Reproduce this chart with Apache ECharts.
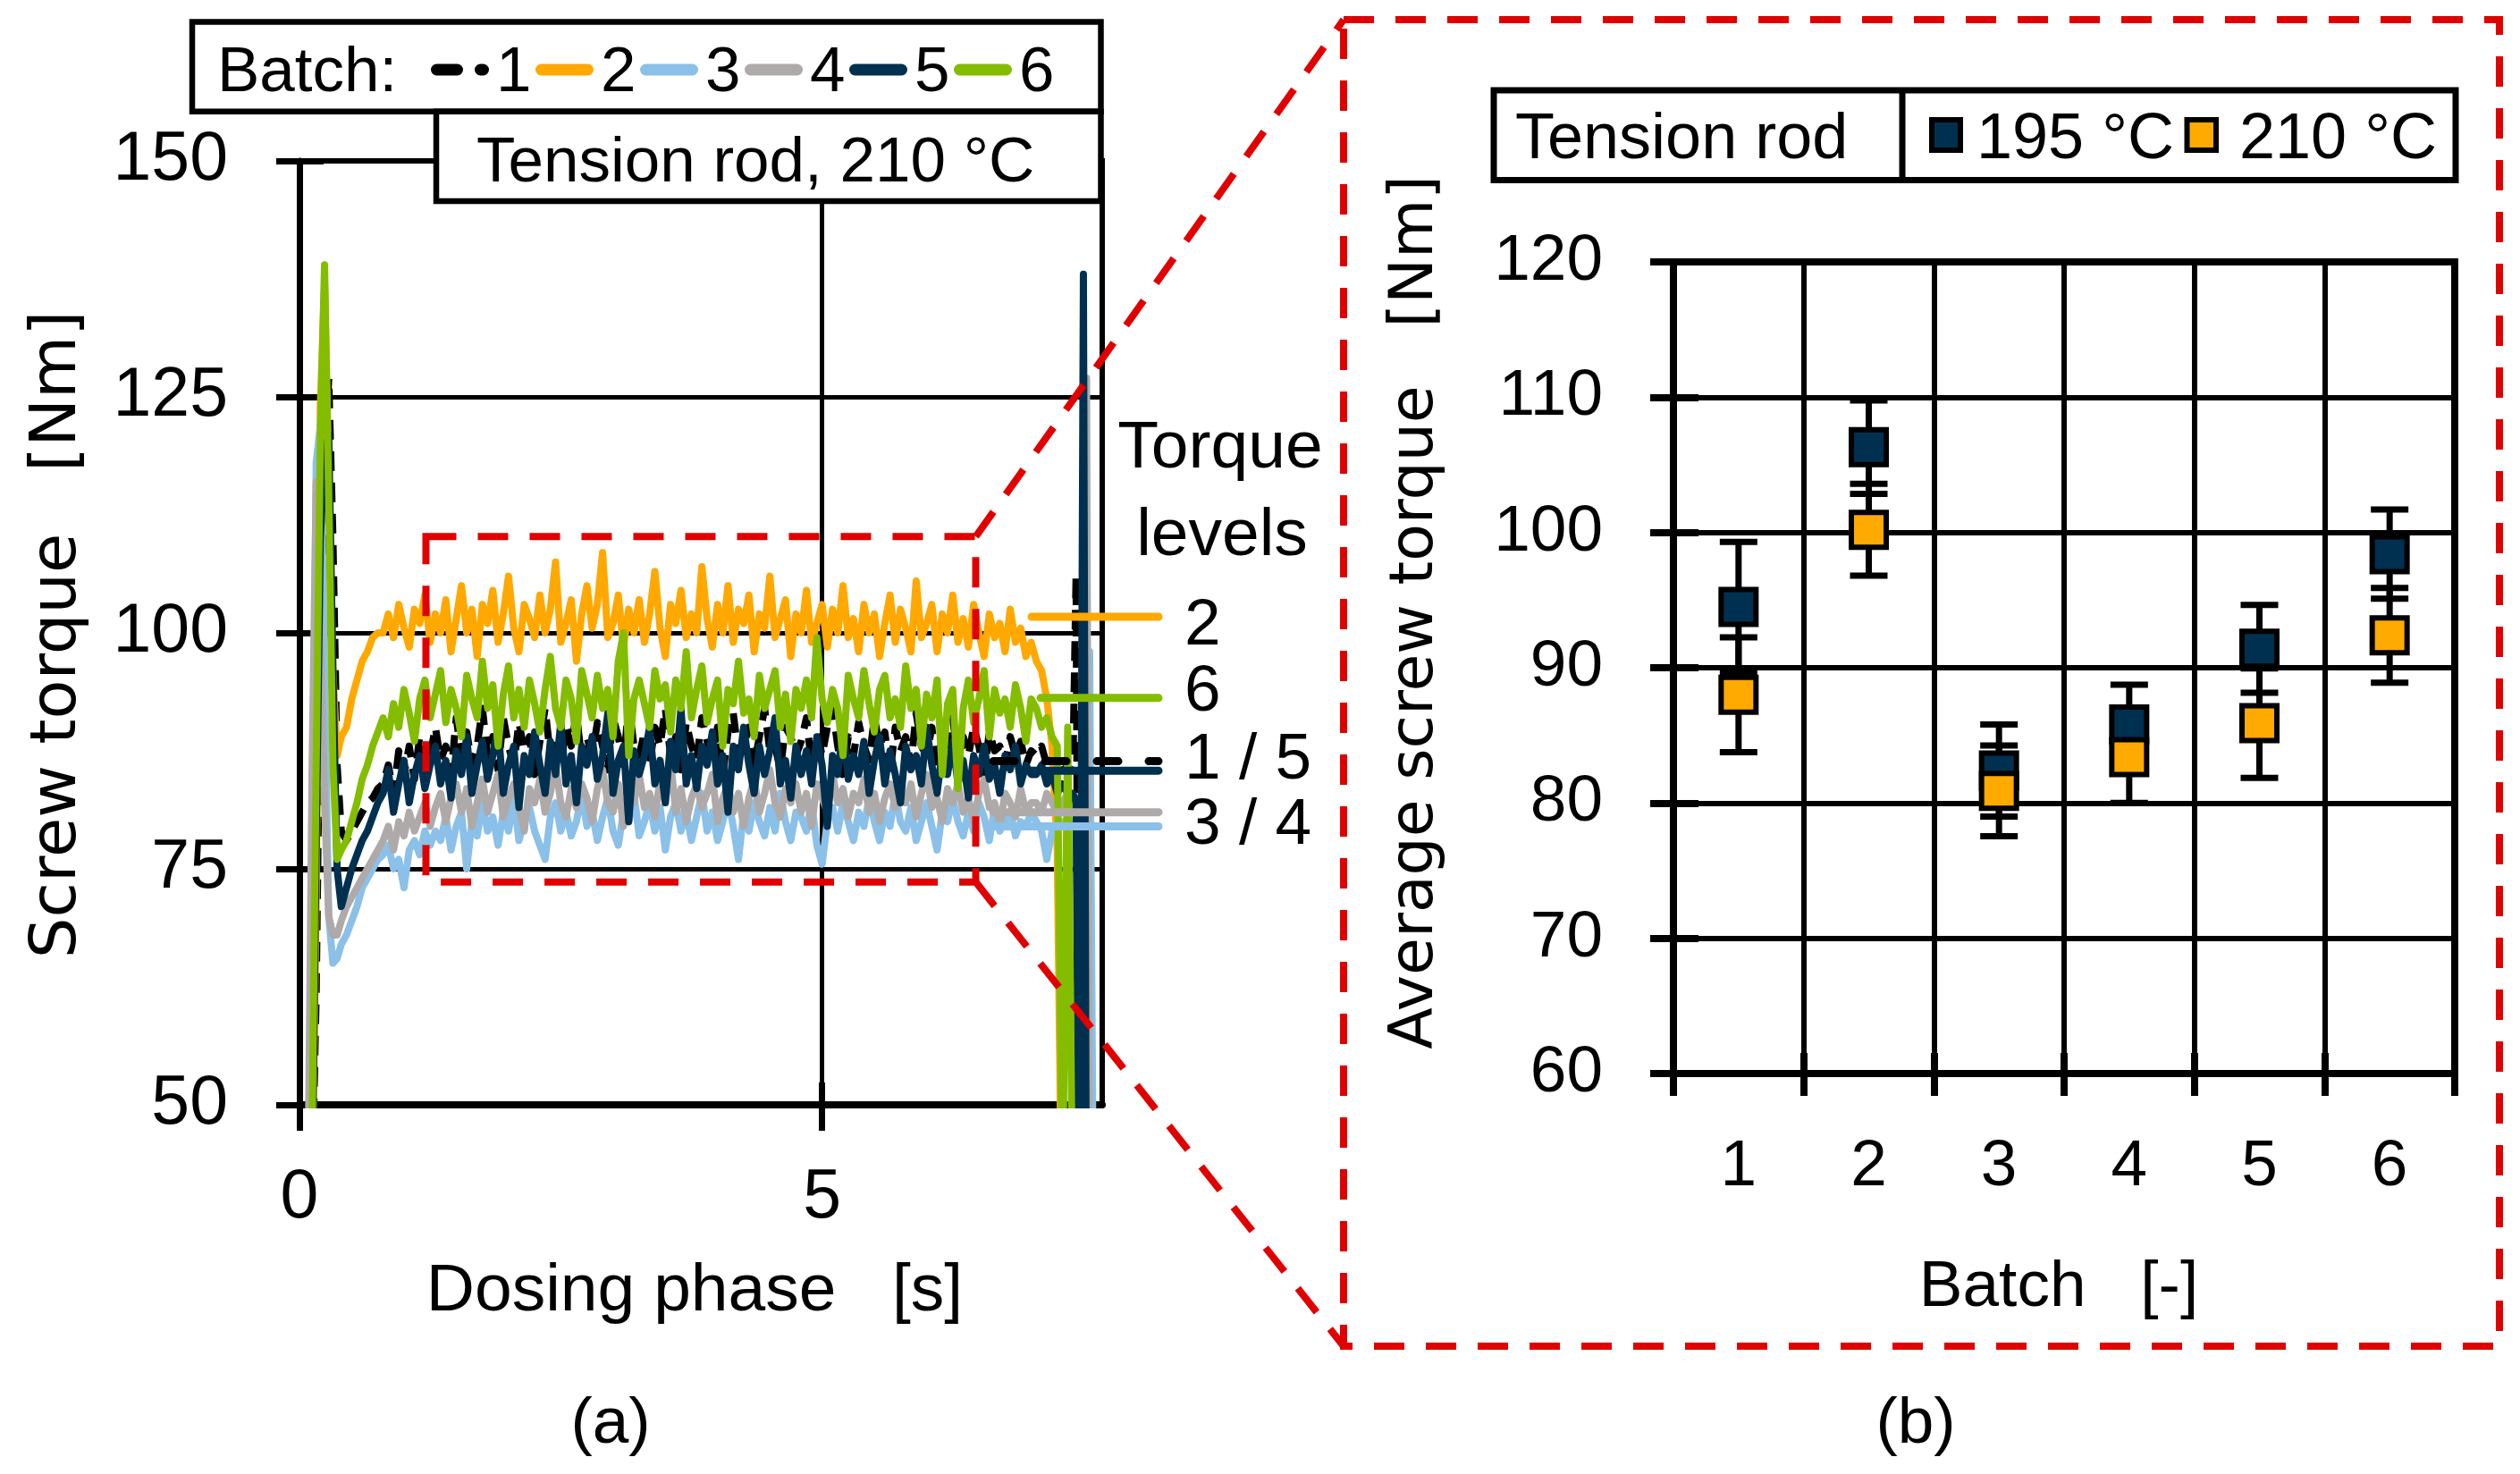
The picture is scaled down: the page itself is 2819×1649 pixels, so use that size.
<!DOCTYPE html>
<html><head><meta charset="utf-8">
<script src="https://cdn.jsdelivr.net/npm/echarts@6.0.0/dist/echarts.min.js"></script>
<style>html,body{margin:0;padding:0;background:#fff}#c{width:2819px;height:1649px}</style>
</head><body><div id="c"></div>
<script>
// ---------------- data: panel (a) ----------------
const time = [
0,0.08,0.12,0.16,0.2,0.24,0.28,0.32,0.36,0.4,0.45,0.5,0.55,0.6,0.65,0.7,0.75,
0.8,0.85,0.9,0.95,1,1.05,1.1,1.15,1.2,1.25,
1.3,1.35,1.4,1.45,1.5,1.55,1.6,1.65,1.7,1.75,
1.8,1.85,1.9,1.95,2,2.05,2.1,2.15,2.2,2.25,
2.3,2.35,2.4,2.45,2.5,2.55,2.6,2.65,2.7,2.75,
2.8,2.85,2.9,2.95,3,3.05,3.1,3.15,3.2,3.25,
3.3,3.35,3.4,3.45,3.5,3.55,3.6,3.65,3.7,3.75,
3.8,3.85,3.9,3.95,4,4.05,4.1,4.15,4.2,4.25,
4.3,4.35,4.4,4.45,4.5,4.55,4.6,4.65,4.7,4.75,
4.8,4.85,4.9,4.95,5,5.05,5.1,5.15,5.2,5.25,
5.3,5.35,5.4,5.45,5.5,5.55,5.6,5.65,5.7,5.75,
5.8,5.85,5.9,5.95,6,6.05,6.1,6.15,6.2,6.25,
6.3,6.35,6.4,6.45,6.5,6.55,6.6,6.65,6.7,6.75,
6.8,6.85,6.9,6.95,7,
7.05,7.1,7.15,7.2,7.25,7.3,7.35,7.4,7.43,7.46,7.5,7.53,7.56,7.6];

const batch1 = [
40,40,40,62,98,118,127,110,86,79,78,79,80,81,82,82.5,83.5,
84,86,83,87.5,85,88,84.5,89,86,87,
90,86.5,88,85,91,87,89.5,86,88,92,
87,89,85.5,91,88,86,90.5,87.5,89,85,
88.5,92,87,89,86,90,88,91.5,86.5,89,
87,90.5,88,85.5,91,89,86,92.5,88,87,
89.5,86,90,88,92,87,89,85.5,90.5,88,
86.5,91,88.5,87,90,85,89.5,91.5,87,88,
90,86,89,92,87.5,88,85.5,90,89,87,
88.5,91,86,89.5,87,90,92,88,85,89,
87,90.5,88,86.5,91,88,89.5,85,90,87.5,
89,86,91.5,88,87,90,85.5,89,88,91,
86.5,89,87,90,88,85,89.5,87.5,88,86,
89,87,88.5,86,87.5,
87,88,86,87,85,86,85,86,106,30,null,null,null,null];

const batch2 = [
40,40,40,72,124,137,116,96,87,89,90,93,95,97,98,99.5,100,
100,102,99.5,103,100.5,98.5,102.5,101,104,99,
102,100,103.5,98,101.5,105,100,102.5,97.5,103,
101,104.5,99,102,106,100.5,98,103,101.5,99.5,
104,100,102.5,107.5,99,101,103.5,97,102,105,
100.5,103,108.5,99.5,101,104,98.5,102.5,100,103.5,
99,102,106.5,100.5,97.5,103,101,104.5,99.5,102,
100,107,101.5,98.5,103,100,105,99,102.5,101,
104,98,102,100.5,106,99.5,101.5,103.5,97.5,102,
100,104.5,99,101,103,98.5,102.5,100,105,99.5,
101.5,98,103,100,102,97.5,101,104,99,102.5,
100.5,98,105.5,99.5,101,103,98,102,100,104,
99,101.5,98.5,103,100,97.5,102,99.5,101,98,
102.5,99,100.5,97.5,99,
97,96,93,88,77,30,null,null,null,null,null,null,null,null];

const batch3 = [
40,40,70,118,122,95,70,65,65.5,67,68,69.5,71,73,74,75,76,
76.5,77.5,75,76,73,77,78,76.5,79,77.5,
79,78,80.5,77,79.5,81,75,80,78.5,82,
79,80.5,77.5,81,79,82.5,78,80,81.5,79,
77.5,76,80.5,82,79,81,78.5,80,83,79.5,
81,78,80.5,82.5,79,77.5,81,80,83,78.5,
80,82,79,81.5,77,80.5,82,79,81,78,
80.5,83,79,81,78,80,82.5,79.5,76,81,
79,82,80,78.5,81.5,79,83,80,78,81,
80.5,79,82,77.5,75.5,80,81.5,79,82,80,
78,81,79.5,82.5,80,78,81,79.5,83,80,
79,81.5,78,80,82,79.5,77,81,80,82.5,
80,78.5,81,79,82,80.5,78,81.5,79,80,
81,78.5,80,79.5,81,
80,79,76,79,80,80,79,80,80,79,80,81,98,30];

const batch4 = [
40,40,85,116,100,82,70,68,68,69.5,71,72,73,74,75,76,77,
78,79.5,77,80,78.5,81,79,80.5,82,79.5,
81.5,83,80,82.5,84,81,83.5,79.5,82,84.5,
81,83,85,80.5,82.5,84,81.5,79,83.5,82,
84.5,81,83,86,82,80.5,83.5,81.5,84,82.5,
80,83.5,85.5,82,81,84,79.5,83,82,85,
81.5,83,80.5,84.5,82,86.5,81,83.5,80,82.5,
84,81.5,83,85,80,82.5,84,81,83,79.5,
82.5,84.5,81,83,85.5,82,80.5,83.5,82,84,
81,83,79.5,84,82.5,81,85,82,83.5,80.5,
83,82,84.5,81,83,80,82.5,84,81.5,83,
82,84,80.5,83,85,81.5,82.5,80,83.5,82,
84,81,82.5,80,83,84.5,81.5,82,79.5,83,
82,80.5,83.5,81,82,
82,81,83,82,81,82,83,82,81,82,82,127,30,null];

const batch5 = [
40,40,40,78,110,119,121,96,75,71,73,75,76.5,78,79,80.5,82,
83,85.5,81,84,86.5,82,85,87,83.5,86,
88,84,86.5,82.5,87.5,85,89,83,86,88.5,
84.5,87,90,83,86,88,81.5,87,85,89.5,
86,83,88.5,85,90.5,84,87,82,88,86,
89,84.5,87,91.5,83,86.5,88,80,87.5,85,
87,90,84,86.5,82,88.5,85.5,92,84,87,
83.5,88,86,89.5,84,87,81,88,85.5,90,
86,83,88,85,87.5,91,84,86.5,82.5,88,
85,87.5,84,89,86,79.5,87,85,90,84.5,
87,85,88.5,83,86.5,89,84,87.5,85,82,
88,85.5,87,84,90,86,83,87.5,85,88.5,
84,86.5,82.5,87,85,88,84.5,86,83,87,
85.5,88,84,86,85,
85,86,84,85,83,84,83,83,82,30,138,30,null,null];

const batch6 = [
40,40,46,86,121,139,114,86,76,77,78,80,82,84.5,86,88,89.5,
91,89,92.5,90,94,91.5,88.5,93,95,91,
93.5,96,90.5,94,92,89,95.5,93,91,97,
92,94.5,88,93.5,96.5,91,94,90,95,92.5,
89.5,94,97.5,92,90,95,93,88.5,96,93.5,
91,95.5,92,94,89,97,100,87,93,95,
92.5,90,96,93,94.5,89.5,95,92,98,91,
94,96.5,90.5,93,95,88,94,92.5,97,91.5,
93,89,95.5,92,94,96,90,93.5,88.5,94,
92,95,91,99.5,93,90.5,94,92,87,95.5,
93,91,96,92.5,89.5,94,95.5,91,93,90,
96.5,92,94,88,93.5,91,95,85,92.5,94,
83.5,92,95,90.5,93,96,89,94,91.5,93,
90,94.5,92,88.5,93,
92,90,91,89,88,40,90,35,null,null,null,null,null,null];

const batchNames = ['1','2','3','4','5','6'];
const batchSeries = [batch1, batch2, batch3, batch4, batch5, batch6];
const xTicksA = [0, 5];
// torque level keys (value, batch) in order of the annotation
const levelValues = [101.7, 93.1, 86.4, 85.4, 81.0, 79.5];
const levelBatch  = [1, 5, 0, 4, 3, 2];   // index into batchNames
const levelLabels = ['2', '6', '1 / 5', '3 / 4'];
const zoomX = [1.21, 6.47];
const zoomY = [73.6, 110.2];

// ---------------- data: panel (b) ----------------
const batches = ['1','2','3','4','5','6'];
const mean195 = [94.5, 106.3, 82.4, 85.8, 91.4, 98.4];
const err195  = [4.8, 3.45, 3.4, 2.95, 3.25, 3.3];
const mean210 = [88.0, 100.2, 80.9, 83.4, 85.9, 92.4];
const err210  = [4.25, 3.4, 3.35, 3.4, 4.05, 3.5];

batchSeries.forEach((s, i) => { if (s.length !== time.length) throw new Error('len mismatch batch' + (i+1) + ': ' + s.length + ' vs ' + time.length); });

// ---------------- styles ----------------
const FONT = '"Liberation Sans", Arial, sans-serif';
const TFONT = '"DejaVu Sans", Verdana, sans-serif';
const colors = ['#000000', '#FFA800', '#8BC0E8', '#AEAAAA', '#00304F', '#84BD00'];
const NAVY = '#00304F', ORANGE = '#FFAA00', RED = '#E00000';

const chart = echarts.init(document.getElementById('c'), null, {renderer: 'canvas'});

function valueAxisBase(extra) {
  return Object.assign({type: 'value', axisLine: {show: true, onZero: false, lineStyle: {color: '#000', width: 7}},
    splitLine: {show: true, lineStyle: {color: '#000', width: 6}}}, extra);
}

const lineSeries = batchSeries.map((vals, i) => ({
  type: 'line', name: batchNames[i], xAxisIndex: 0, yAxisIndex: 0,
  data: time.map((t, k) => [t, vals[k]]),
  showSymbol: false, symbol: 'none', clip: true, z: 2 + i * 0.01,
  lineStyle: {color: colors[i], width: 8, type: i === 0 ? [22, 13] : 'solid', cap: 'butt', join: 'round'},
  silent: true, animation: false
}));

function errRender(params, api) {
  const x = api.value(0), m = api.value(1), e = api.value(2);
  const p1 = api.coord([x, m + e]), p2 = api.coord([x, m - e]);
  const hw = 21, st = {stroke: '#000', lineWidth: 7};
  return {type: 'group', children: [
    {type: 'line', shape: {x1: p1[0], y1: p1[1], x2: p2[0], y2: p2[1]}, style: st},
    {type: 'line', shape: {x1: p1[0] - hw, y1: p1[1], x2: p1[0] + hw, y2: p1[1]}, style: st},
    {type: 'line', shape: {x1: p2[0] - hw, y1: p2[1], x2: p2[0] + hw, y2: p2[1]}, style: st}
  ]};
}

const option = {
  animation: false,
  backgroundColor: '#ffffff',
  grid: [
    {left: 335, top: 180, width: 898, height: 1056, show: true, borderColor: '#000', borderWidth: 6, backgroundColor: 'transparent'},
    {left: 1872, top: 293, width: 874, height: 908, show: true, borderColor: '#000', borderWidth: 8, backgroundColor: 'transparent'}
  ],
  xAxis: [
    valueAxisBase({gridIndex: 0, min: 0, max: 7.68, interval: 5,
      axisLine: {show: true, onZero: false, lineStyle: {color: '#000', width: 8}},
      axisTick: {show: true, length: 29, customValues: xTicksA, lineStyle: {color: '#000', width: 7}},
      axisLabel: {show: true, customValues: xTicksA, fontSize: 77, fontFamily: FONT, color: '#000', margin: 66},
      splitLine: {show: true, lineStyle: {color: '#000', width: 5}}}),
    valueAxisBase({gridIndex: 0, min: 0, max: 7.68, interval: 5, position: 'bottom',
      axisLine: {show: false}, splitLine: {show: false}, axisLabel: {show: false},
      axisTick: {show: true, inside: true, length: 25, customValues: xTicksA, lineStyle: {color: '#000', width: 7}}}),
    {type: 'category', gridIndex: 1, data: batches, boundaryGap: true,
      axisLine: {show: true, onZero: false, lineStyle: {color: '#000', width: 8}},
      axisTick: {show: true, alignWithLabel: false, length: 25, lineStyle: {color: '#000', width: 8}},
      axisLabel: {fontSize: 73, fontFamily: FONT, color: '#000', margin: 68},
      splitLine: {show: true, lineStyle: {color: '#000', width: 6}}},
    {type: 'category', gridIndex: 1, data: batches, boundaryGap: true, position: 'bottom',
      axisLine: {show: false}, splitLine: {show: false}, axisLabel: {show: false},
      axisTick: {show: true, inside: true, alignWithLabel: false, length: 23, lineStyle: {color: '#000', width: 8}}}
  ],
  yAxis: [
    valueAxisBase({gridIndex: 0, min: 50, max: 150, interval: 25,
      axisTick: {show: true, length: 26, lineStyle: {color: '#000', width: 7}},
      axisLabel: {fontSize: 77, fontFamily: FONT, color: '#000', margin: 80},
      splitLine: {show: true, lineStyle: {color: '#000', width: 5}}}),
    valueAxisBase({gridIndex: 0, min: 50, max: 150, interval: 25, position: 'left',
      axisLine: {show: false}, splitLine: {show: false}, axisLabel: {show: false},
      axisTick: {show: true, inside: true, length: 27, lineStyle: {color: '#000', width: 7}}}),
    valueAxisBase({gridIndex: 1, min: 60, max: 120, interval: 10,
      axisLine: {show: true, onZero: false, lineStyle: {color: '#000', width: 8}},
      axisTick: {show: true, length: 26, lineStyle: {color: '#000', width: 8}},
      axisLabel: {fontSize: 73, fontFamily: FONT, color: '#000', margin: 79}}),
    valueAxisBase({gridIndex: 1, min: 60, max: 120, interval: 10, position: 'left',
      axisLine: {show: false}, splitLine: {show: false}, axisLabel: {show: false},
      axisTick: {show: true, inside: true, length: 28, lineStyle: {color: '#000', width: 8}}})
  ],
  series: lineSeries.concat([
    {type: 'custom', name: 'err195', xAxisIndex: 2, yAxisIndex: 2, z: 3, silent: true,
      data: batches.map((b, i) => [i, mean195[i], err195[i]]), renderItem: errRender},
    {type: 'custom', name: 'err210', xAxisIndex: 2, yAxisIndex: 2, z: 3, silent: true,
      data: batches.map((b, i) => [i, mean210[i], err210[i]]), renderItem: errRender},
    {type: 'scatter', name: '195 °C', xAxisIndex: 2, yAxisIndex: 2, z: 4, silent: true,
      symbol: 'rect', symbolSize: 39, data: mean195,
      itemStyle: {color: NAVY, borderColor: '#000', borderWidth: 6, opacity: 1}},
    {type: 'scatter', name: '210 °C', xAxisIndex: 2, yAxisIndex: 2, z: 5, silent: true,
      symbol: 'rect', symbolSize: 39, data: mean210,
      itemStyle: {color: ORANGE, borderColor: '#000', borderWidth: 6, opacity: 1}}
  ])
};
chart.setOption(option);

// ---------------- annotations ----------------
const g = [];
function txt(x, y, s, size, opts) {
  opts = opts || {};
  return Object.assign({type: 'text', x: x, y: y, z: 100, silent: true,
    style: {text: s, fill: '#000', font: size + 'px ' + (opts.family || FONT),
      align: opts.align || 'left', textAlign: opts.align || 'left', verticalAlign: 'middle', textVerticalAlign: 'middle'}},
    opts.rotation ? {rotation: opts.rotation} : {});
}
function ln(x1, y1, x2, y2, color, w, extra) {
  return {type: 'line', z: 100, silent: true, shape: {x1, y1, x2, y2},
    style: Object.assign({stroke: color, lineWidth: w, lineCap: 'round'}, extra || {})};
}

// left legend box
g.push({type: 'rect', z: 99, silent: true, shape: {x: 215, y: 24.5, width: 1016.5, height: 100.2},
  style: {fill: '#fff', stroke: '#000', lineWidth: 6.5}});
g.push(txt(243, 82, 'Batch:', 71));
batchNames.forEach((n, i) => {
  const x0 = 482 + 117 * i;
  g.push(ln(x0 + 6.5, 78, x0 + 58.5, 78, colors[i], 13, i === 0 ? {lineDash: [23, 26]} : {}));
  g.push(txt(x0 + 73, 82, n, 71));
});
// "Tension rod, 210 °C" box
g.push({type: 'rect', z: 99, silent: true, shape: {x: 488, y: 124.7, width: 743.5, height: 100.3},
  style: {fill: '#fff', stroke: '#000', lineWidth: 6.5}});
g.push(txt(533, 183, 'Tension rod, 210 °C', 71));

// right legend box
g.push({type: 'rect', z: 99, silent: true, shape: {x: 1671, y: 101, width: 1076, height: 100.5},
  style: {fill: '#fff', stroke: '#000', lineWidth: 7}});
g.push(ln(2128, 101, 2128, 201.5, '#000', 7, {lineCap: 'butt'}));
g.push(txt(1695, 157, 'Tension rod', 72));
g.push({type: 'rect', z: 100, silent: true, shape: {x: 2161, y: 134, width: 32, height: 34},
  style: {fill: NAVY, stroke: '#000', lineWidth: 6}});
g.push(txt(2211, 157, '195 °C', 72));
g.push({type: 'rect', z: 100, silent: true, shape: {x: 2446.5, y: 134, width: 32.5, height: 34},
  style: {fill: ORANGE, stroke: '#000', lineWidth: 6}});
g.push(txt(2505, 157, '210 °C', 72));

// axis titles
g.push(txt(65, 710, 'Screw torque   [Nm]', 72, {family: TFONT, align: 'center', rotation: Math.PI / 2}));
g.push(txt(1584, 685, 'Average screw torque   [Nm]', 68, {family: TFONT, align: 'center', rotation: Math.PI / 2}));
g.push(txt(777, 1445, 'Dosing phase   [s]', 75, {align: 'center'}));
g.push(txt(2303, 1441, 'Batch   [-]', 73, {align: 'center'}));
g.push(txt(683, 1594, '(a)', 73, {align: 'center'}));
g.push(txt(2143, 1594, '(b)', 73, {align: 'center'}));

// torque levels annotation
g.push(txt(1365, 502, 'Torque', 75, {align: 'center'}));
g.push(txt(1367, 600, 'levels', 75, {align: 'center'}));
const keyStart = [1150, 1160, 1107, 1150, 1107, 1107];
levelValues.forEach((v, i) => {
  const y = chart.convertToPixel({xAxisIndex: 0, yAxisIndex: 0}, [0, v])[1];
  const bi = levelBatch[i];
  g.push(ln(keyStart[i] + 4, y, 1296, y, colors[bi], 9, bi === 0 ? {lineDash: [24, 34]} : {}));
});
const levelTextY = [701, 775, 851, 924];
levelLabels.forEach((s, i) => g.push(txt(1325, levelTextY[i], s, 73)));

// zoom rectangle and connectors
const pTL = chart.convertToPixel({xAxisIndex: 0, yAxisIndex: 0}, [zoomX[0], zoomY[1]]);
const pBR = chart.convertToPixel({xAxisIndex: 0, yAxisIndex: 0}, [zoomX[1], zoomY[0]]);
const dash = {lineDash: [34, 24], lineCap: 'butt'};
g.push({type: 'rect', z: 101, silent: true,
  shape: {x: pTL[0], y: pTL[1], width: pBR[0] - pTL[0], height: pBR[1] - pTL[1]},
  style: Object.assign({fill: 'none', stroke: RED, lineWidth: 8}, dash)});
const box = {x: 1503, y: 22, w: 1293, h: 1484};
g.push({type: 'rect', z: 101, silent: true, shape: {x: box.x, y: box.y, width: box.w, height: box.h},
  style: Object.assign({fill: 'none', stroke: RED, lineWidth: 8}, dash)});
g.push(ln(pBR[0], pTL[1], box.x, box.y, RED, 8, dash));
g.push(ln(pBR[0], pBR[1], box.x, box.y + box.h, RED, 8, dash));

chart.setOption({graphic: {elements: g}});
</script></body></html>
